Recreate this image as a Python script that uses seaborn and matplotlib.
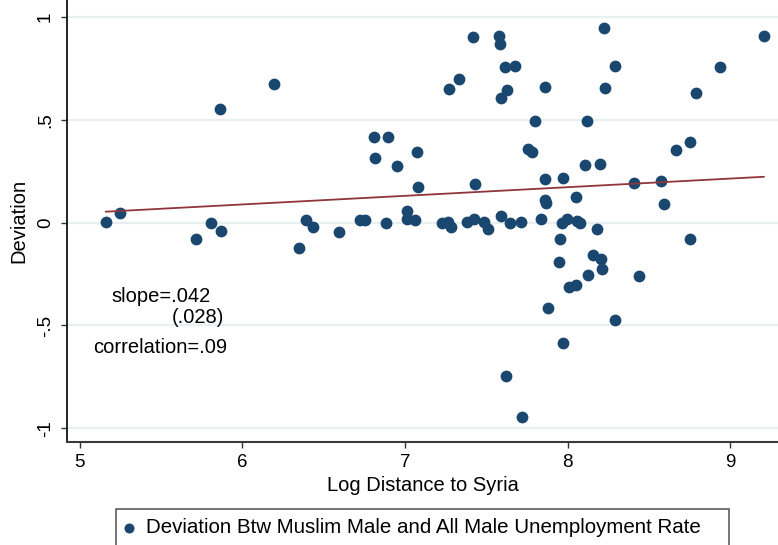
import matplotlib
matplotlib.use("Agg")
import matplotlib.pyplot as plt
import seaborn as sns
import numpy as np
import pandas as pd

# Log distance to Syria and the gap between Muslim male and all-male unemployment
log_distance = [
    5.161, 5.247, 5.714, 5.806, 5.870, 5.865, 6.195, 6.347, 6.390, 6.435,
    6.597, 6.724, 6.757, 6.810, 6.896, 6.814, 6.950, 7.074, 6.882, 7.011,
    7.011, 7.062, 7.079, 7.226, 7.267, 7.281, 7.269, 7.333, 7.380, 7.425,
    7.417, 7.433, 7.488, 7.509, 7.577, 7.585, 7.591, 7.592, 7.615, 7.629,
    7.675, 7.646, 7.620, 7.714, 7.722, 7.757, 7.783, 7.801, 7.835, 7.863,
    7.863, 7.863, 7.867, 7.878, 7.949, 7.953, 7.964, 7.970, 7.972, 7.994,
    8.010, 8.050, 8.053, 8.056, 8.076, 8.109, 8.117, 8.125, 8.158, 8.181,
    8.197, 8.205, 8.211, 8.222, 8.232, 8.290, 8.293, 8.410, 8.437, 8.572,
    8.591, 8.666, 8.750, 8.754, 8.791, 8.937, 9.207,
]
deviation = [
    0.005, 0.047, -0.081, -0.001, -0.042, 0.552, 0.676, -0.125, 0.012, -0.019,
    -0.044, 0.013, 0.012, 0.418, 0.418, 0.313, 0.277, 0.343, -0.001, 0.055,
    0.018, 0.012, 0.175, -0.003, 0.005, -0.022, 0.651, 0.701, 0.005, 0.017,
    0.905, 0.190, 0.005, -0.032, 0.909, 0.870, 0.034, 0.605, 0.756, 0.647,
    0.763, -0.003, -0.746, 0.002, -0.944, 0.359, 0.345, 0.493, 0.018, 0.659,
    0.213, 0.110, 0.094, -0.415, -0.190, -0.081, 0.000, 0.218, -0.584, 0.018,
    -0.314, -0.302, 0.127, 0.008, -0.003, 0.282, 0.493, -0.253, -0.159, -0.032,
    0.287, -0.178, -0.227, 0.946, 0.657, -0.473, 0.763, 0.195, -0.258, 0.201,
    0.090, 0.352, -0.078, 0.394, 0.630, 0.756, 0.909,
]

# Linear fit reported on the chart
fit_slope = 0.042
fit_slope_se = 0.028
fit_intercept = -0.163
correlation = 0.09

x_ticks = [5, 6, 7, 8, 9]
x_tick_labels = ["5", "6", "7", "8", "9"]
y_ticks = [-1, -0.5, 0, 0.5, 1]
y_tick_labels = ["-1", "-.5", "0", ".5", "1"]

series_label = "Deviation Btw Muslim Male and All Male Unemployment Rate"

df = pd.DataFrame({"log_distance": log_distance, "deviation": deviation})

sns.set_theme(style="white")
plt.rcParams["font.family"] = ["Liberation Sans", "DejaVu Sans"]
plt.rcParams["text.color"] = "black"
plt.rcParams["axes.labelcolor"] = "black"
plt.rcParams["xtick.color"] = "black"
plt.rcParams["ytick.color"] = "black"

dot_color = "#1a476f"
line_color = "#90353b"
grid_color = "#e8eff1"

W, H = 778, 545
fig = plt.figure(figsize=(W / 100, H / 100), dpi=100)
ax = fig.add_axes([67 / W, 1 - 442 / H, 1 - 67 / W, 442 / H])

for yv in y_ticks:
    ax.axhline(yv, color=grid_color, lw=1.6, zorder=0)

sns.scatterplot(data=df, x="log_distance", y="deviation", ax=ax,
                color=dot_color, s=72, linewidth=0, label=series_label,
                zorder=3)

x_fit = np.array([df["log_distance"].min(), df["log_distance"].max()])
y_fit = fit_intercept + fit_slope * x_fit
sns.lineplot(x=x_fit, y=y_fit, ax=ax, color=line_color, lw=1.3,
             legend=False, zorder=4)

ax.set_xlim(4.923, 9.293)
ax.set_ylim(-1.067, 1.084)

ax.set_xticks(x_ticks)
ax.set_xticklabels(x_tick_labels, fontsize=13.5)
ax.set_yticks(y_ticks)
ax.set_yticklabels(y_tick_labels, fontsize=13.5, rotation=90, va="center")
ax.tick_params(axis="both", which="major", direction="out", length=4.5,
               width=1.0, color="#333333", bottom=True, left=True)
ax.tick_params(axis="x", pad=4)
ax.tick_params(axis="y", pad=5)

for side in ("top", "right"):
    ax.spines[side].set_visible(False)
ax.spines["left"].set_color("black")
ax.spines["left"].set_linewidth(1.2)
ax.spines["bottom"].set_color("#3a3a3a")
ax.spines["bottom"].set_linewidth(1.5)

ax.set_xlabel("Log Distance to Syria", fontsize=14.5, labelpad=4)
ax.set_ylabel("Deviation", fontsize=14.5, labelpad=6)

ax.text(5.499, -0.360, f"slope={fit_slope:.3f}".replace("0.", "."),
        ha="center", va="center", fontsize=14.5)
ax.text(5.888, -0.462, f"({fit_slope_se:.3f})".replace("0.", "."),
        ha="right", va="center", fontsize=14.5)
ax.text(5.494, -0.608, f"correlation={correlation:.2f}".replace("0.", "."),
        ha="center", va="center", fontsize=14.5)

handles, labels = ax.get_legend_handles_labels()
ax.legend_.remove()
leg = fig.legend(handles[:1], labels[:1],
                 bbox_to_anchor=(116 / W, 0, 613 / W, 1 - 509 / H),
                 loc="upper left", mode="expand", fontsize=14.8,
                 frameon=True, fancybox=False, borderpad=0.45,
                 handletextpad=0.6, handlelength=0.4, borderaxespad=0,
                 markerscale=0.85)
leg.get_frame().set_edgecolor("#333333")
leg.get_frame().set_linewidth(1.2)

fig.savefig("out.png", dpi=100)
